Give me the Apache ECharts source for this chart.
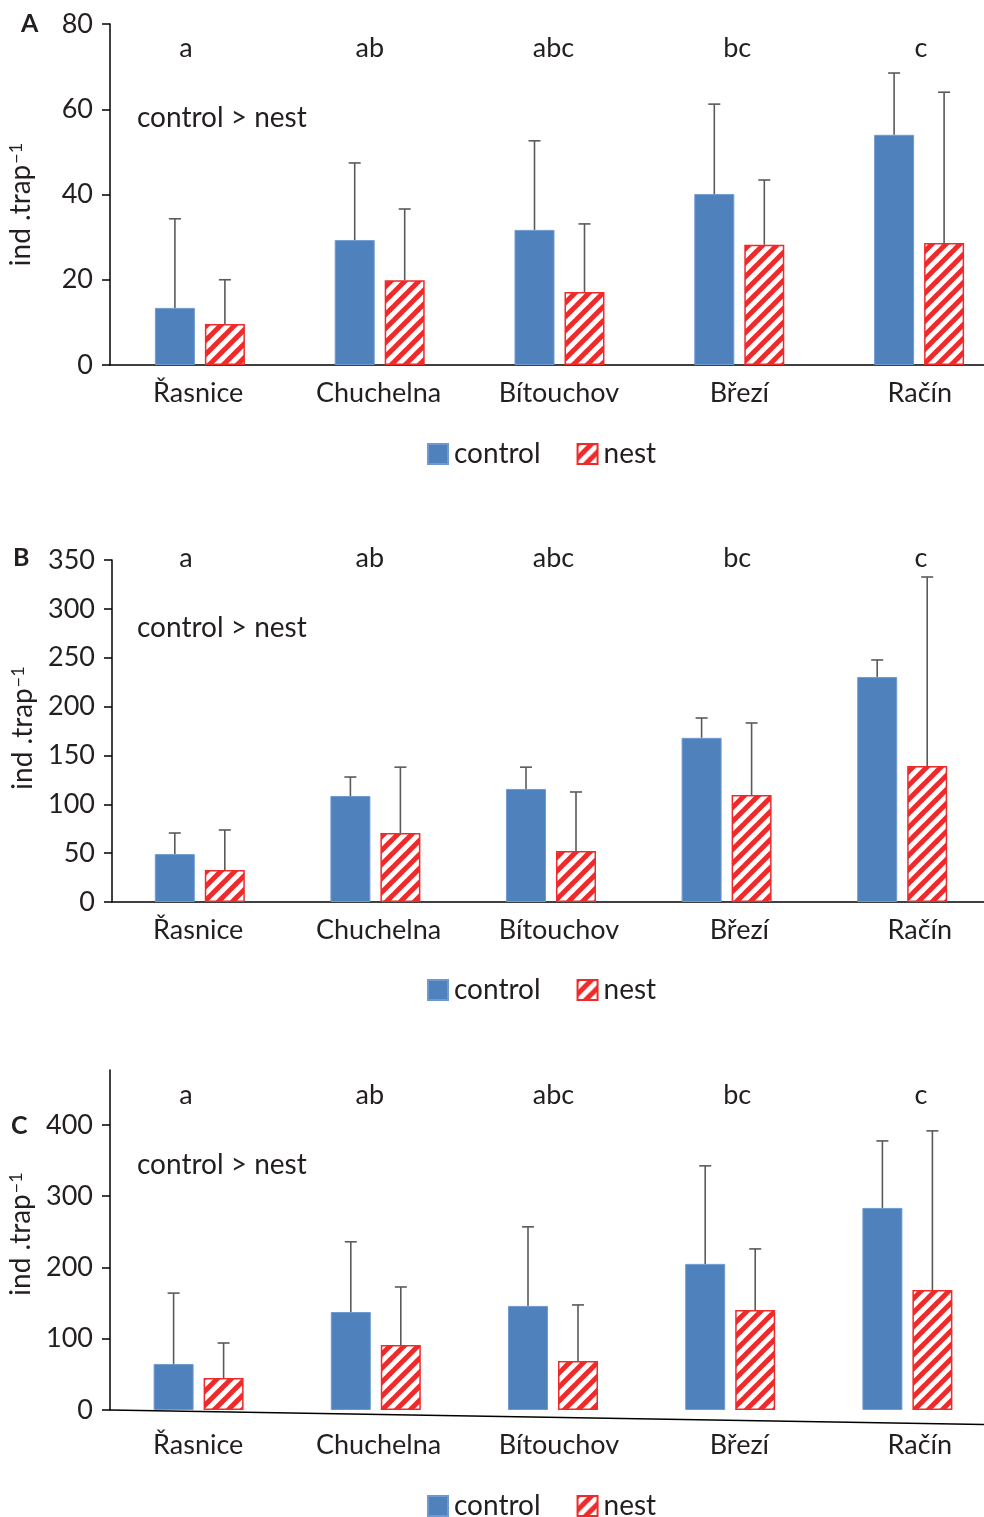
<!DOCTYPE html>
<html><head><meta charset="utf-8">
<script src="https://cdn.jsdelivr.net/npm/echarts@6/dist/echarts.min.js"></script>
<style>html,body{margin:0;padding:0;background:#fff}#c{width:984px;height:1517px}</style>
</head><body><div id="c"></div>
<script>
const categories = ['Řasnice','Chuchelna','Bítouchov','Březí','Račín'];
const letters = ['a','ab','abc','bc','c'];
const seriesNames = ['control','nest'];
// Panel A (mean, mean+SD)
const A_control = [13.4, 29.3, 31.7, 40.1, 54.0];
const A_controlUp = [34.3, 47.4, 52.6, 61.2, 68.5];
const A_nest = [9.6, 19.9, 17.1, 28.2, 28.6];
const A_nestUp = [20.0, 36.6, 33.1, 43.4, 64.0];
// Panel B
const B_control = [49.0, 108.5, 115.7, 168.0, 230.3];
const B_controlUp = [70.6, 127.9, 138.0, 188.3, 247.7];
const B_nest = [32.7, 70.6, 52.2, 109.5, 139.2];
const B_nestUp = [73.7, 138.0, 112.6, 183.2, 332.6];
// Panel C
const C_control = [64.6, 137.5, 146.0, 205.0, 283.5];
const C_controlUp = [164.0, 236.0, 257.0, 342.5, 377.5];
const C_nest = [44.9, 91.2, 68.8, 140.4, 168.4];
const C_nestUp = [94.0, 172.6, 147.4, 226.0, 391.6];
// Tick labels
const A_ticks = [0, 20, 40, 60, 80];
const B_ticks = [0, 50, 100, 150, 200, 250, 300, 350];
const C_ticks = [0, 100, 200, 300, 400];
const note = 'control > nest';

const FONT = 'Lato';
const FS = 27;
const TXT = '#231f20';
const BLUE = '#4f81bd';
const RED = '#ee2a2a';

// hatch pattern
const tile = document.createElement('canvas');
tile.width = 14; tile.height = 14;
(function(){
  const g = tile.getContext('2d');
  g.fillStyle = '#fff'; g.fillRect(0,0,14,14);
  g.strokeStyle = RED; g.lineWidth = 5; g.lineCap = 'square';
  [-14, 0, 14].forEach(o => { g.beginPath(); g.moveTo(o, 14); g.lineTo(o + 14, 0); g.stroke(); });
})();
const hatch = { image: tile, repeat: 'repeat' };

const chart = echarts.init(document.getElementById('c'), null, {renderer: 'canvas'});

const panels = [
  { key:'A', ctl:A_control, ctlUp:A_controlUp, nst:A_nest, nstUp:A_nestUp, ticks:A_ticks,
    bar:{left:110,width:899,top:24,height:341}, lab:{left:108,width:902,top:24,height:341},
    max:80, labMargin:15, showX:true, legendTop:435, letterY:48, noteY:118, tag:{x:21,y:24}, namePad:[0,20,0,0] },
  { key:'B', ctl:B_control, ctlUp:B_controlUp, nst:B_nest, nstUp:B_nestUp, ticks:B_ticks,
    bar:{left:112,width:878,top:560,height:342}, lab:{left:108,width:902,top:560,height:342},
    max:350, labMargin:15, showX:true, legendTop:971, letterY:558, noteY:628, tag:{x:13,y:558}, namePad:[0,0,0,6] },
  { key:'C', ctl:C_control, ctlUp:C_controlUp, nst:C_nest, nstUp:C_nestUp, ticks:C_ticks,
    bar:{left:110,width:886,top:1070,height:340}, lab:{left:108,width:902,top:1070,height:340},
    max:477, labMargin:22, showX:false, legendTop:1487, letterY:1095, noteY:1165, tag:{x:11,y:1126}, namePad:[0,0,0,12] }
];

const grid = [], xAxis = [], yAxis = [], series = [], legend = [], graphic = [];

function errRender(sign){
  return function(params, api){
    const x = api.value(0);
    const p0 = api.coord([x, api.value(1)]);
    const p1 = api.coord([x, api.value(2)]);
    const cx = p0[0] + sign * 25;
    const cap = 6;
    return { type:'group', children:[
      { type:'line', shape:{x1:cx, y1:p0[1], x2:cx, y2:p1[1]}, style:{stroke:'#5a5a5a', lineWidth:1.6} },
      { type:'line', shape:{x1:cx-cap, y1:p1[1], x2:cx+cap, y2:p1[1]}, style:{stroke:'#5a5a5a', lineWidth:1.6} }
    ]};
  };
}

panels.forEach((P, i) => {
  const gb = i * 2, gl = i * 2 + 1;
  grid.push(Object.assign({outerBoundsMode:'none', containLabel:false}, P.bar));
  grid.push(Object.assign({outerBoundsMode:'none', containLabel:false}, P.lab));
  xAxis.push({ type:'category', gridIndex:gb, data:categories,
    axisLine:{show:P.showX, lineStyle:{color:'#000', width:1.5}}, axisTick:{show:false}, axisLabel:{show:false} });
  xAxis.push({ type:'category', gridIndex:gl, data:categories,
    axisLine:{show:false}, axisTick:{show:false},
    axisLabel:{color:TXT, fontFamily:FONT, fontSize:FS, margin:P.labMargin} });
  yAxis.push({ type:'value', gridIndex:gb, min:0, max:P.max, interval:P.ticks[1]-P.ticks[0],
    splitLine:{show:false},
    axisLine:{show:true, lineStyle:{color:'#000', width:1.5}},
    axisTick:{show:true, length:8, inside:false, customValues:P.ticks, lineStyle:{color:'#000', width:1.5}},
    axisLabel:{color:TXT, fontFamily:FONT, fontSize:FS, margin:17, customValues:P.ticks},
    name:'{a|ind .trap}{s|\u22121}', nameLocation:'middle', nameGap:75, nameRotate:90,
    nameTextStyle:{color:TXT, fontFamily:FONT, padding:P.namePad,
      rich:{ a:{fontSize:28, fontFamily:FONT, color:TXT},
             s:{fontSize:18, fontFamily:FONT, color:TXT, verticalAlign:'top', padding:[0,0,10,1]} } } });
  yAxis.push({ type:'value', gridIndex:gl, min:0, max:P.max, show:false });

  series.push({ name:seriesNames[0], type:'bar', xAxisIndex:gb, yAxisIndex:gb, data:P.ctl,
    barWidth:40, barGap:'25%', itemStyle:{color:BLUE, borderColor:'#6f9ad0', borderWidth:1}, z:2 });
  series.push({ name:seriesNames[1], type:'bar', xAxisIndex:gb, yAxisIndex:gb, data:P.nst,
    barWidth:40, barGap:'25%', itemStyle:{color:hatch, borderColor:RED, borderWidth:1.5}, z:2 });
  series.push({ type:'custom', xAxisIndex:gb, yAxisIndex:gb, renderItem:errRender(-1),
    data:P.ctl.map((v,k)=>[k, v, P.ctlUp[k]]), z:1, silent:true });
  series.push({ type:'custom', xAxisIndex:gb, yAxisIndex:gb, renderItem:errRender(1),
    data:P.nst.map((v,k)=>[k, v, P.nstUp[k]]), z:1, silent:true });

  legend.push({ data:seriesNames, top:P.legendTop, left:422, itemWidth:20, itemHeight:20, itemGap:36,
    icon:'rect', textStyle:{color:TXT, fontFamily:FONT, fontSize:28, padding:[0,0,0,1]} });

  letters.forEach((t, k) => {
    graphic.push({ type:'text', x: 186 + k * 183.75, y: P.letterY, silent:true,
      style:{ text:t, fill:TXT, fontFamily:FONT, fontSize:FS, align:'center', verticalAlign:'middle' } });
  });
  graphic.push({ type:'text', x:137, y:P.noteY, silent:true,
    style:{ text:note, fill:TXT, fontFamily:FONT, fontSize:28, align:'left', verticalAlign:'middle' } });
  graphic.push({ type:'text', x:P.tag.x, y:P.tag.y, silent:true,
    style:{ text:P.key, fill:TXT, fontFamily:FONT, fontSize:25, fontWeight:'bold', align:'left', verticalAlign:'middle' } });
});

// slanted baseline of panel C (as drawn in the original)
graphic.push({ type:'line', silent:true, shape:{x1:110, y1:1410, x2:984, y2:1424.5},
  style:{stroke:'#000', lineWidth:1.5} });

chart.setOption({ animation:false, backgroundColor:'#fff', grid, xAxis, yAxis, series, legend, graphic });
</script></body></html>
